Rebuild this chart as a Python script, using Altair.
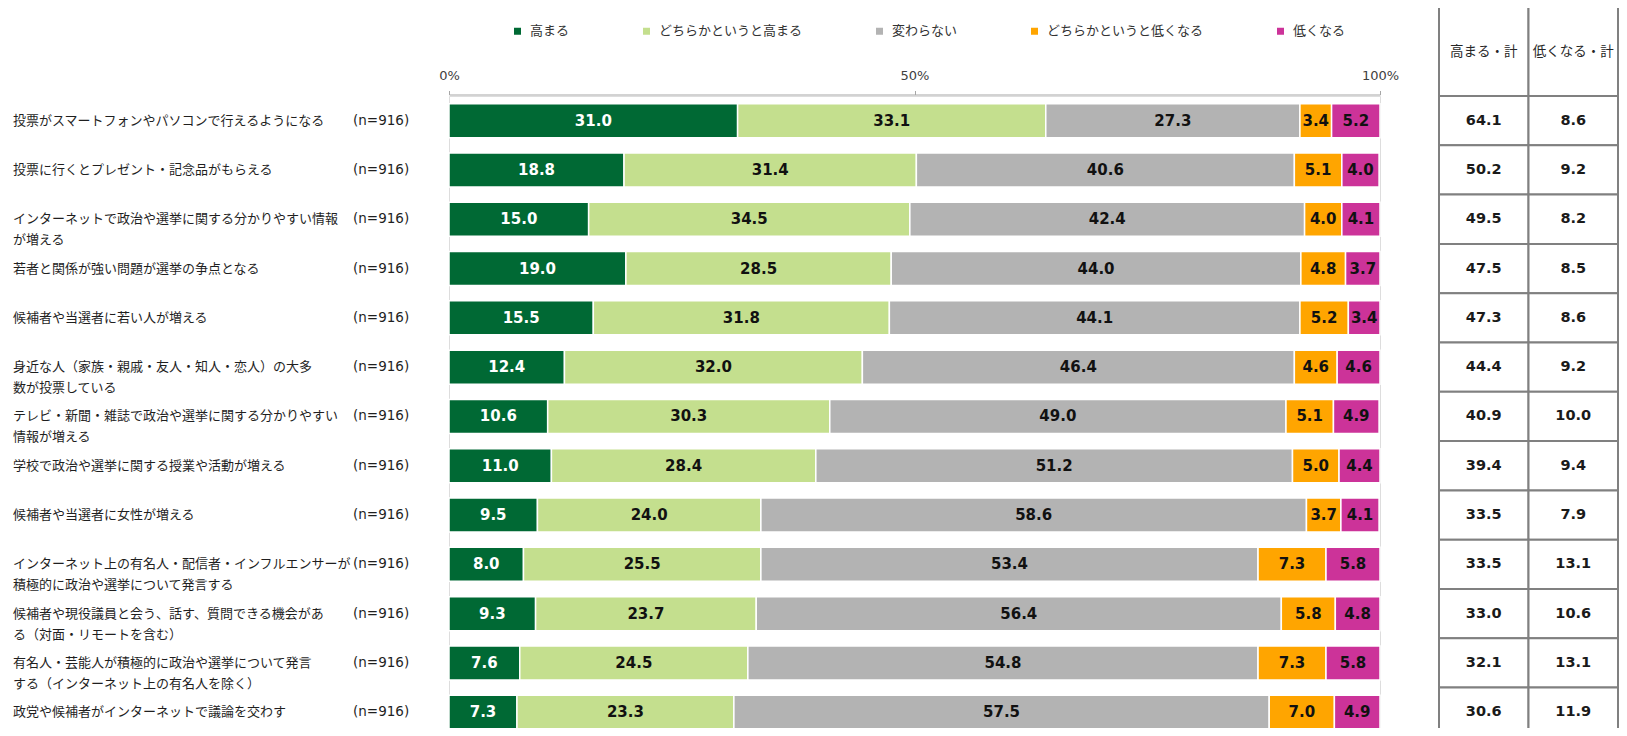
import altair as alt
import pandas as pd

categories = [
    "投票がスマートフォンやパソコンで行えるようになる",
    "投票に行くとプレゼント・記念品がもらえる",
    "インターネットで政治や選挙に関する分かりやすい情報\nが増える",
    "若者と関係が強い問題が選挙の争点となる",
    "候補者や当選者に若い人が増える",
    "身近な人（家族・親戚・友人・知人・恋人）の大多\n数が投票している",
    "テレビ・新聞・雑誌で政治や選挙に関する分かりやすい\n情報が増える",
    "学校で政治や選挙に関する授業や活動が増える",
    "候補者や当選者に女性が増える",
    "インターネット上の有名人・配信者・インフルエンサーが\n積極的に政治や選挙について発言する",
    "候補者や現役議員と会う、話す、質問できる機会があ\nる（対面・リモートを含む）",
    "有名人・芸能人が積極的に政治や選挙について発言\nする（インターネット上の有名人を除く）",
    "政党や候補者がインターネットで議論を交わす",
]
n_labels = ["(n=916)"] * len(categories)

series = ["高まる", "どちらかというと高まる", "変わらない", "どちらかというと低くなる", "低くなる"]
colors = ["#006934", "#C4DF8E", "#B3B3B3", "#FFA500", "#CC3399"]

takamaru = [31.0, 18.8, 15.0, 19.0, 15.5, 12.4, 10.6, 11.0, 9.5, 8.0, 9.3, 7.6, 7.3]
dochira_taka = [33.1, 31.4, 34.5, 28.5, 31.8, 32.0, 30.3, 28.4, 24.0, 25.5, 23.7, 24.5, 23.3]
kawaranai = [27.3, 40.6, 42.4, 44.0, 44.1, 46.4, 49.0, 51.2, 58.6, 53.4, 56.4, 54.8, 57.5]
dochira_hiku = [3.4, 5.1, 4.0, 4.8, 5.2, 4.6, 5.1, 5.0, 3.7, 7.3, 5.8, 7.3, 7.0]
hikuku = [5.2, 4.0, 4.1, 3.7, 3.4, 4.6, 4.9, 4.4, 4.1, 5.8, 4.8, 5.8, 4.9]

table_cols = ["高まる・計", "低くなる・計"]
total_high = [64.1, 50.2, 49.5, 47.5, 47.3, 44.4, 40.9, 39.4, 33.5, 33.5, 33.0, 32.1, 30.6]
total_low = [8.6, 9.2, 8.2, 8.5, 8.6, 9.2, 10.0, 9.4, 7.9, 13.1, 10.6, 13.1, 11.9]

# ---- build tables ----
values_by_series = [takamaru, dochira_taka, kawaranai, dochira_hiku, hikuku]
rows = []
for si, (s, vals) in enumerate(zip(series, values_by_series)):
    for ci, c in enumerate(categories):
        rows.append({"cat": c, "series": s, "sidx": si, "value": vals[ci]})
df = pd.DataFrame(rows)

df_cat = pd.DataFrame({"cat": categories, "n": n_labels})

trows = []
for ci, c in enumerate(categories):
    trows.append({"cat": c, "col": table_cols[0], "val": total_high[ci]})
    trows.append({"cat": c, "col": table_cols[1], "val": total_low[ci]})
df_tab = pd.DataFrame(trows)
df_head = pd.DataFrame({"col": table_cols})

JP = "Noto Sans CJK JP"
NUM = "DejaVu Sans"

W = 931
H = 632
STEP = 49.3
Y_RANGE = [0, STEP * len(categories)]
PI = 0.31

y_bar = alt.Y("cat:N", sort=categories,
              scale=alt.Scale(type="band", domain=categories, range=Y_RANGE,
                              paddingInner=PI, paddingOuter=PI / 2),
              axis=None)
y_tab = alt.Y("cat:N", sort=categories,
              scale=alt.Scale(type="band", domain=categories, range=Y_RANGE,
                              paddingInner=0, paddingOuter=0),
              axis=None)
x_tab = alt.X("col:N", sort=table_cols,
              scale=alt.Scale(type="band", domain=table_cols, range=[990, 1169],
                              paddingInner=0, paddingOuter=0),
              axis=None)
x_scale = alt.Scale(domain=[0, 100], nice=False, zero=True)

stacked = alt.Chart(df).transform_stack(
    stack="value", as_=["x0", "x1"], groupby=["cat"],
    sort=[alt.SortField("sidx", order="ascending")]
)

bars = stacked.mark_bar(stroke="white", strokeWidth=1.5).encode(
    x=alt.X("x0:Q", scale=x_scale,
            axis=alt.Axis(orient="top", values=[0, 50, 100], labelExpr="datum.value + '%'",
                          domainColor="#A6A6A6", tickColor="#A6A6A6", tickSize=4,
                          labelPadding=8, labelFont=NUM, labelFontSize=13, labelColor="#404040",
                          grid=False, offset=1.5, title=None, labelFlush=False)),
    x2="x1:Q",
    y=y_bar,
    color=alt.Color("series:N", sort=series,
                    scale=alt.Scale(domain=series, range=colors),
                    legend=alt.Legend(orient="none", legendX=62, legendY=-71.5,
                                      direction="horizontal", columns=5, title=None,
                                      symbolType="square", symbolSize=49, symbolStrokeWidth=0,
                                      labelFont=JP, labelFontSize=13, labelColor="#333333",
                                      columnPadding=70, labelOffset=6, padding=0)),
)

bar_text = stacked.transform_calculate(
    mid="(datum.x0 + datum.x1) / 2"
).mark_text(font=NUM, fontSize=15, fontWeight="bold", baseline="middle", align="center").encode(
    x=alt.X("mid:Q", scale=x_scale, axis=None),
    y=y_bar,
    text=alt.Text("value:Q", format=".1f"),
    color=alt.when(alt.datum.sidx == 0).then(alt.value("white")).otherwise(alt.value("#111111")),
)

cat_text = alt.Chart(df_cat).mark_text(
    align="left", baseline="middle", font=JP, fontSize=13, lineBreak="\n", lineHeight=21,
    color="#1f1f1f"
).encode(
    x=alt.value(-436),
    y=y_bar,
    text="cat:N",
)

n_text = alt.Chart(df_cat).mark_text(
    align="left", baseline="middle", font=NUM, fontSize=13.5, color="#1f1f1f"
).encode(
    x=alt.value(-96),
    y=y_bar,
    text="n:N",
)

tab_cells = alt.Chart(df_tab).mark_rect(fill="white", stroke="#808080", strokeWidth=2).encode(
    x=x_tab,
    y=y_tab,
)

tab_text = alt.Chart(df_tab).mark_text(
    font=NUM, fontSize=14.5, fontWeight="bold", color="#1a1a1a", baseline="middle"
).encode(
    x=x_tab,
    y=y_tab,
    text=alt.Text("val:Q", format=".1f"),
)

head_cells = alt.Chart(df_head).mark_rect(fill="white", stroke="#808080", strokeWidth=2).encode(
    x=x_tab,
    y=alt.value(-90),
    y2=alt.value(0),
)

head_text = alt.Chart(df_head).mark_text(
    font=JP, fontSize=13.5, color="#262626", baseline="middle"
).encode(
    x=x_tab,
    y=alt.value(-44),
    text="col:N",
)

chart = alt.layer(
    head_cells, tab_cells, head_text, tab_text, bars, bar_text, cat_text, n_text
).resolve_scale(
    x="independent", y="independent"
).properties(
    width=W, height=H,
    autosize=alt.AutoSizeParams(type="none"),
    padding={"left": 441, "top": 88, "right": 239, "bottom": 0},
).configure_view(stroke=None).configure(background="white")

chart.save("out.html", embed_options={"renderer": "svg", "actions": False})
